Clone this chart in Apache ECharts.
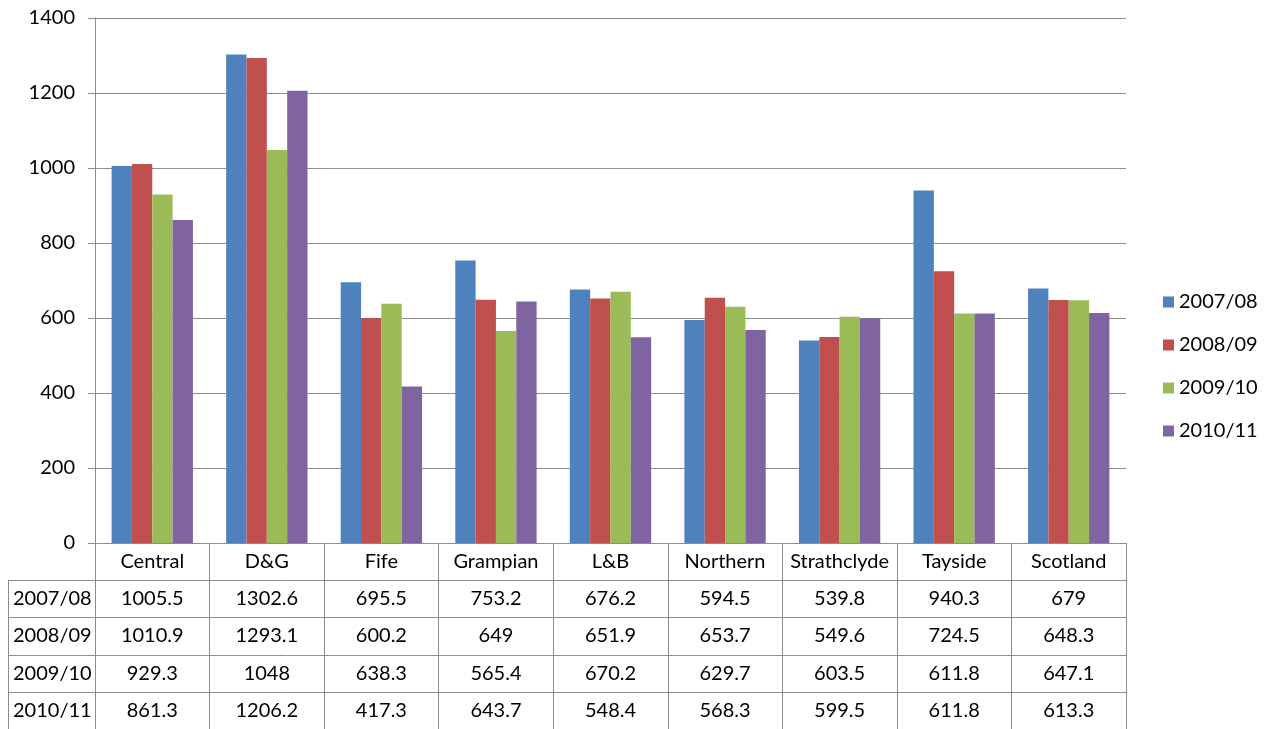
<!DOCTYPE html>
<html>
<head>
<meta charset="utf-8">
<script src="https://cdn.jsdelivr.net/npm/echarts@6/dist/echarts.min.js"></script>
<style>
html,body{margin:0;padding:0;background:#fff;}
#main{width:1265px;height:729px;}
</style>
</head>
<body>
<div id="main"></div>
<script>
var regions=['Central','D&G','Fife','Grampian','L&B','Northern','Strathclyde','Tayside','Scotland'];
var years=['2007/08','2008/09','2009/10','2010/11'];
var v0708=[1005.5,1302.6,695.5,753.2,676.2,594.5,539.8,940.3,679];
var v0809=[1010.9,1293.1,600.2,649,651.9,653.7,549.6,724.5,648.3];
var v0910=[929.3,1048,638.3,565.4,670.2,629.7,603.5,611.8,647.1];
var v1011=[861.3,1206.2,417.3,643.7,548.4,568.3,599.5,611.8,613.3];
var colors=['#4F81BD','#C0504D','#9BBB59','#8064A2'];

var allValues=[v0708,v0809,v0910,v1011];
var FONT='Lato';
var FS=20;
var gridLeft=95,gridRight=1126,gridTop=18,gridBottom=543;
var rowH=(729-gridBottom)/5;//表格行高

var chart=echarts.init(document.getElementById('main'));

var series=[];
for(var i=0;i<years.length;i++){
	series.push({
		name:years[i],
		type:'bar',
		data:allValues[i],
		barGap:'0%',
		barCategoryGap:'29%',
		itemStyle:{color:colors[i]}
	});
}

var option={
	animation:false,
	color:colors,
	grid:{left:gridLeft,right:1265-gridRight,top:gridTop,bottom:729-gridBottom},
	legend:{
		orient:'vertical',
		left:1158,
		top:287,
		itemWidth:11,
		itemHeight:11,
		itemGap:23,
		icon:'rect',
		textStyle:{fontFamily:FONT,fontSize:FS,color:'#000'},
		data:years
	},
	xAxis:{
		type:'category',
		data:regions,
		axisLine:{lineStyle:{color:'#8c8c8c',width:1}},
		axisTick:{show:true,length:186,lineStyle:{color:'#8c8c8c'}},
		axisLabel:{fontFamily:FONT,fontSize:FS,color:'#000',margin:9,interval:0}
	},
	yAxis:{
		type:'value',
		min:0,
		max:1400,
		interval:200,
		axisLine:{show:true,lineStyle:{color:'#8c8c8c'}},
		axisTick:{show:true,length:7,lineStyle:{color:'#8c8c8c'}},
		axisLabel:{fontFamily:FONT,fontSize:FS,color:'#000',margin:20,formatter:function(v){return String(v);}},
		splitLine:{lineStyle:{color:'#8c8c8c',width:1}}
	},
	series:series
};
chart.setOption(option);

//数据表格
var elements=[];
for(var r=0;r<years.length;r++){
	var yLine=Math.round(gridBottom+rowH*(r+1))+0.5;
	elements.push({
		type:'line',
		shape:{x1:8,y1:yLine,x2:gridRight,y2:yLine},
		style:{stroke:'#8c8c8c',lineWidth:1}
	});
	var yMid=gridBottom+rowH*(r+1.5);
	elements.push({
		type:'text',
		x:13,y:yMid,
		style:{text:years[r],fontFamily:FONT,fontSize:FS,fill:'#000',verticalAlign:'middle',textAlign:'left'}
	});
	for(var c=0;c<regions.length;c++){
		var px=chart.convertToPixel({xAxisIndex:0},regions[c]);
		elements.push({
			type:'text',
			x:px,y:yMid,
			style:{text:String(allValues[r][c]),fontFamily:FONT,fontSize:FS,fill:'#000',verticalAlign:'middle',textAlign:'center'}
		});
	}
}
elements.push({
	type:'line',
	shape:{x1:8.5,y1:Math.round(gridBottom+rowH)+0.5,x2:8.5,y2:729},
	style:{stroke:'#8c8c8c',lineWidth:1}
});
chart.setOption({graphic:{elements:elements}});
</script>
</body>
</html>
